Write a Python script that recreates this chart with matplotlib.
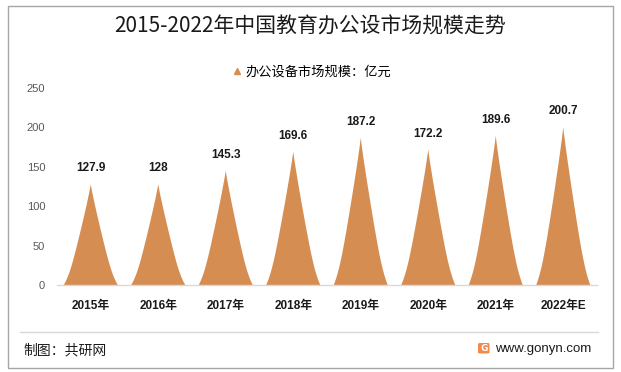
import matplotlib
matplotlib.use("Agg")
import matplotlib.pyplot as plt
import numpy as np
from matplotlib.lines import Line2D
from matplotlib.patches import Rectangle, FancyBboxPatch

plt.rcParams['font.family'] = ['Noto Sans CJK SC', 'DejaVu Sans']

categories = ['2015年', '2016年', '2017年', '2018年', '2019年', '2020年', '2021年', '2022年E']
values = [127.9, 128, 145.3, 169.6, 187.2, 172.2, 189.6, 200.7]
value_labels = ['127.9', '128', '145.3', '169.6', '187.2', '172.2', '189.6', '200.7']
y_ticks = [0, 50, 100, 150, 200, 250]
title = '2015-2022年中国教育办公设市场规模走势'
legend_label = '办公设备市场规模：亿元'
source = '制图：共研网'
site = 'www.gonyn.com'

color = '#D68D52'
W, H = 621, 372
fig = plt.figure(figsize=(W / 100, H / 100), dpi=100)

def fx(px):
    return px / W

def fy(py):
    return 1 - py / H

# outer border
fig.add_artist(Rectangle((fx(7.5), fy(367.5)), fx(613) - fx(7.5), fy(5.5) - fy(367.5),
                         transform=fig.transFigure, fill=False, edgecolor='#A6A6A6', lw=1.0))
# footer separator
fig.add_artist(Line2D([fx(20), fx(598)], [fy(332), fy(332)], transform=fig.transFigure,
                      color='#D9D9D9', lw=1.0))

ax = fig.add_axes([fx(57), fy(285), fx(597) - fx(57), fy(88) - fy(285)])
ax.set_xlim(-0.5, len(categories) - 0.5)
ax.set_ylim(0, 250)

half_w = 0.4
u = np.linspace(0, 1, 300)
w = 0.88 * u ** 1.1 + 0.12 * u ** 10
for i, v in enumerate(values):
    xs = np.concatenate([i - half_w * w[::-1], i + half_w * w])
    ys = np.concatenate([v * (1 - u[::-1]), v * (1 - u)])
    ax.fill(xs, ys, color=color, lw=0)
    ax.annotate(value_labels[i], (i, v), xytext=(0, 7), textcoords='offset points',
                ha='center', va='bottom', fontsize=8.5, fontweight='bold',
                family=['Liberation Sans', 'DejaVu Sans'], color='#1a1a1a')

ax.set_xticks(range(len(categories)))
ax.set_xticklabels(categories, fontsize=8.5, fontweight='bold',
                   family=['Liberation Sans', 'Noto Sans CJK SC'], color='#1a1a1a')
ax.set_yticks(y_ticks)
ax.set_yticklabels([str(t) for t in y_ticks], fontsize=8,
                   family=['Liberation Sans', 'DejaVu Sans'], color='#595959')
ax.tick_params(axis='x', length=0, pad=11)
ax.tick_params(axis='y', length=0, pad=8.5)
for s in ['top', 'right', 'left']:
    ax.spines[s].set_visible(False)
ax.spines['bottom'].set_color('#D9D9D9')
ax.spines['bottom'].set_linewidth(1.0)

# title
fig.text(fx(310.5), fy(26.5), title, ha='center', va='center', fontsize=15, color='#1a1a1a')

# legend
handle = Line2D([], [], marker='^', color=color, linestyle='None', markersize=5)
leg = fig.legend([handle], [legend_label], loc='center', bbox_to_anchor=(fx(312), fy(72)),
                 frameon=False, fontsize=9.5, handlelength=0.6, handletextpad=0.3,
                 borderpad=0, borderaxespad=0)

# footer
fig.text(fx(23), fy(350), source, ha='left', va='center', fontsize=10, color='#1a1a1a')
fig.text(fx(495), fy(349), site, ha='left', va='center', fontsize=9.5,
         family=['Liberation Sans', 'DejaVu Sans'], color='#1a1a1a')
fig.add_artist(FancyBboxPatch((fx(478), fy(353.5)), fx(11.5), fy(343) - fy(353.5),
                              boxstyle='round,pad=0,rounding_size=0.003',
                              transform=fig.transFigure, facecolor='#F28A4E', edgecolor='none'))
fig.text(fx(484), fy(348.5), 'G', ha='center', va='center', fontsize=6.5, fontweight='bold',
         color='white', family=['DejaVu Sans'])

fig.savefig('out.png', dpi=100)
